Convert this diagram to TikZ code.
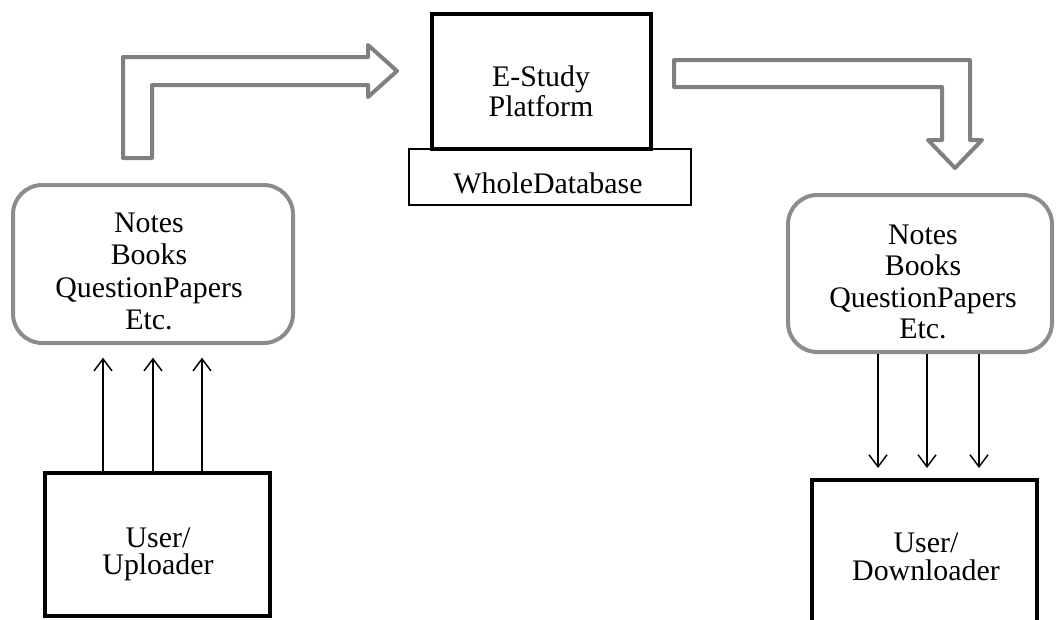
\documentclass[tikz,border=0pt]{standalone}
\usepackage{fontspec}
\setmainfont{Liberation Serif}
\usetikzlibrary{arrows.meta}
\definecolor{arrowgray}{RGB}{128,128,128}
\definecolor{boxgray}{RGB}{140,140,140}
\tikzset{
 px/.style={x=0.75pt,y=-0.75pt},
 thickbox/.style={draw=black, line width=3.5pt, inner sep=0pt, outer sep=0pt},
 thinbox/.style={draw=black, line width=1pt, inner sep=0pt, outer sep=0pt, fill=white},
 roundbox/.style={draw=boxgray, line width=3pt, rounded corners=22pt, inner sep=0pt, outer sep=0pt},
 lbl/.style={align=center, inner sep=0pt, font=\fontsize{22.4}{24.2}\selectfont},
 bigarrow/.style={draw=arrowgray, line width=3pt, line join=round, fill=white},
 flow/.style={-{Straight Barb[length=9pt,width=13.5pt]}, line width=1.1pt},
}
\begin{document}
\begin{tikzpicture}[px]
\useasboundingbox (0,0) rectangle (1056,619);
\clip (0,0) rectangle (1056,619);

% boxes
\node[thinbox, minimum width=211.5pt, minimum height=42pt] (dbBox) at (550,177) {};
\node[thickbox, minimum width=164.25pt, minimum height=101.25pt] (studyBox) at (541.5,81.5) {};
\node[roundbox, minimum width=210pt, minimum height=118.5pt] (notesL) at (153,264) {};
\node[roundbox, minimum width=198pt, minimum height=117.75pt] (notesR) at (920,273.5) {};
\node[thickbox, minimum width=168.75pt, minimum height=107.25pt] (upBox) at (157.5,544.5) {};
\node[thickbox, minimum width=168.75pt, minimum height=165pt] (downBox) at (924.5,590) {};

% texts
\node[lbl, font=\fontsize{22.4}{22.5}\selectfont] (tStudy) at (541,91) {E-Study\\Platform};
\node[lbl] (tDb) at (548,183) {WholeDatabase};
\node[lbl] (tNotesL) at (149,271.5) {Notes\\Books\\QuestionPapers\\Etc.};
\node[lbl, font=\fontsize{22.4}{23.5}\selectfont] (tNotesR) at (923,282) {Notes\\Books\\QuestionPapers\\Etc.};
\node[lbl, font=\fontsize{22.4}{20.3}\selectfont] (tUp) at (158,554.5) {User/\\Uploader};
\node[lbl, font=\fontsize{22.4}{20.8}\selectfont] (tDown) at (926,557) {User/\\Downloader};

% big block arrows
\draw[bigarrow] (123,158) -- (123,57) -- (368,57) -- (368,45) -- (397,71) -- (368,97) -- (368,85) -- (152,85) -- (152,158) -- cycle;
\draw[bigarrow] (674,60) -- (970,60) -- (970,140) -- (982,140) -- (955,168) -- (928,140) -- (942,140) -- (942,87) -- (674,87) -- cycle;

% thin arrows
\coordinate (u1) at (103,0);
\coordinate (u2) at (153,0);
\coordinate (u3) at (202,0);
\coordinate (d1) at (878,0);
\coordinate (d2) at (927,0);
\coordinate (d3) at (979,0);
\foreach \c in {u1,u2,u3}
  \draw[flow, shorten <=1.5pt, shorten >=11pt] (upBox.north -| \c) -- (notesL.south -| \c);
\foreach \c in {d1,d2,d3}
  \draw[flow, shorten <=1.2pt, shorten >=9pt] (notesR.south -| \c) -- (downBox.north -| \c);
\end{tikzpicture}
\end{document}
